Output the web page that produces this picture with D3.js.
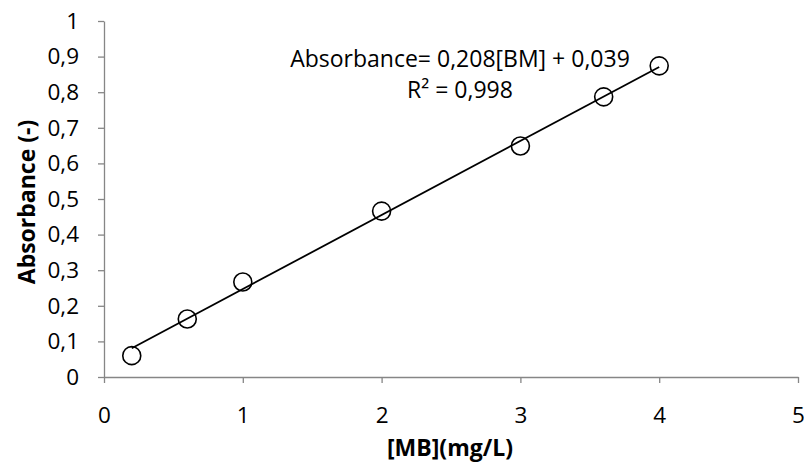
<!DOCTYPE html>
<html lang="en">
<head>
    <meta charset="UTF-8">
    <title>Absorbance calibration</title>
    <script src="https://d3js.org/d3.v7.min.js"></script>
    <style>
        body {
            margin: 0;
            background-color: #ffffff;
            font-family: 'Open Sans', sans-serif;
        }
        svg {
            display: block;
        }
        .axis path, .axis line {
            stroke: #868686;
            stroke-width: 1.3px;
        }
        .axis text {
            font-family: 'Open Sans', sans-serif;
            font-size: 22.5px;
            fill: #000;
        }
    </style>
</head>
<body>
    <svg id="chart"></svg>

    <script>
        // concentration of MB (mg/L) and measured absorbance
        const concentration = [0.2, 0.6, 1, 2, 3, 3.6, 4];
        const absorbance = [0.060, 0.163, 0.267, 0.466, 0.649, 0.787, 0.874];

        // linear fit
        const slope = 0.208;
        const intercept = 0.039;

        const xTicks = [0, 1, 2, 3, 4, 5];
        const yTicks = [0, 0.1, 0.2, 0.3, 0.4, 0.5, 0.6, 0.7, 0.8, 0.9, 1];

        const equationLines = ["Absorbance= 0,208[BM] + 0,039", "R² = 0,998"];

        const width = 804, height = 463;
        const margin = {top: 21, right: 6, bottom: 86, left: 104};

        const svg = d3.select("#chart")
            .attr("width", width)
            .attr("height", height);

        const x = d3.scaleLinear().domain([0, 5]).range([margin.left, width - margin.right]);
        const y = d3.scaleLinear().domain([0, 1]).range([height - margin.bottom, margin.top]);

        const fmt = d => String(d).replace(".", ",");

        svg.append("g")
            .attr("class", "axis")
            .attr("transform", `translate(0,${height - margin.bottom})`)
            .call(d3.axisBottom(x).tickValues(xTicks).tickFormat(fmt).tickSize(6).tickSizeOuter(0).tickPadding(24));

        svg.append("g")
            .attr("class", "axis")
            .attr("transform", `translate(${margin.left},0)`)
            .call(d3.axisLeft(y).tickValues(yTicks).tickFormat(fmt).tickSize(6).tickSizeOuter(0).tickPadding(19));

        // trendline
        const x0 = d3.min(concentration), x1 = d3.max(concentration);
        svg.append("line")
            .attr("x1", x(x0))
            .attr("y1", y(slope * x0 + intercept))
            .attr("x2", x(x1))
            .attr("y2", y(slope * x1 + intercept))
            .attr("stroke", "#000")
            .attr("stroke-width", 1.8);

        // points
        svg.append("g")
            .selectAll("circle")
            .data(concentration)
            .enter().append("circle")
            .attr("cx", d => x(d))
            .attr("cy", (d, i) => y(absorbance[i]))
            .attr("r", 9)
            .attr("fill", "none")
            .attr("stroke", "#000")
            .attr("stroke-width", 1.6);

        // equation label
        svg.append("g")
            .selectAll("text")
            .data(equationLines)
            .enter().append("text")
            .attr("x", 460)
            .attr("y", (d, i) => 67 + i * 31)
            .attr("text-anchor", "middle")
            .style("font-size", "23px")
            .text(d => d);

        // axis titles
        svg.append("text")
            .attr("x", 450)
            .attr("y", 456)
            .attr("text-anchor", "middle")
            .style("font-size", "23px")
            .style("font-weight", "bold")
            .text("[MB](mg/L)");

        svg.append("text")
            .attr("transform", "translate(35,202) rotate(-90)")
            .attr("text-anchor", "middle")
            .style("font-size", "23px")
            .style("font-weight", "bold")
            .text("Absorbance (-)");
    </script>
</body>
</html>
